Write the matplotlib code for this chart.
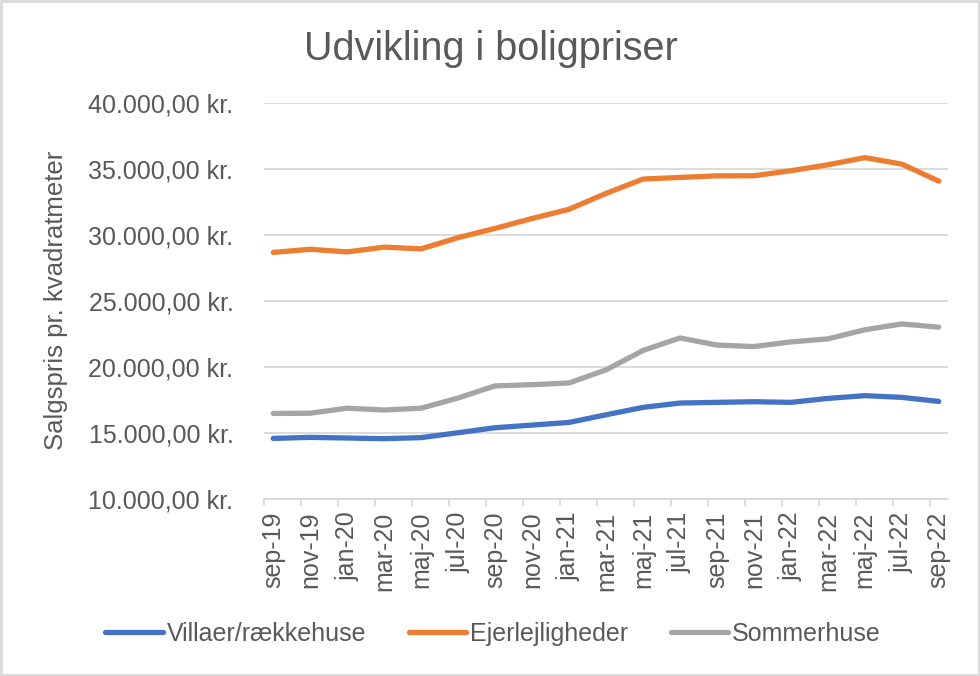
import matplotlib
matplotlib.use('Agg')
import matplotlib.pyplot as plt
from matplotlib.patches import Rectangle
from matplotlib.ticker import FuncFormatter, FixedLocator

plt.rcParams['font.family'] = ['Liberation Sans', 'DejaVu Sans']

# Data (kr. pr. m2), bimonthly
maaneder = ['sep-19', 'nov-19', 'jan-20', 'mar-20', 'maj-20', 'jul-20', 'sep-20',
            'nov-20', 'jan-21', 'mar-21', 'maj-21', 'jul-21', 'sep-21', 'nov-21',
            'jan-22', 'mar-22', 'maj-22', 'jul-22', 'sep-22']
villaer = [14590, 14670, 14620, 14570, 14650, 15020, 15400, 15600, 15800, 16380,
           16940, 17270, 17320, 17370, 17320, 17620, 17830, 17700, 17390]
ejerlejligheder = [28680, 28920, 28720, 29080, 28950, 29800, 30500, 31250, 31950,
                   33150, 34240, 34360, 34480, 34490, 34870, 35320, 35860, 35370, 34080]
sommerhuse = [16480, 16500, 16880, 16740, 16880, 17650, 18570, 18660, 18790, 19780,
              21250, 22200, 21660, 21550, 21900, 22130, 22820, 23260, 23020]

tekst = '#595959'
gitter = '#D9D9D9'

fig = plt.figure(figsize=(9.8, 6.76), dpi=100)
ax = fig.add_axes([264/980, 1-499/676, (948-264)/980, (499-103)/676])

x = list(range(len(maaneder)))
ax.plot(x, villaer, color='#4472C4', lw=3.8, solid_capstyle='round', label='Villaer/rækkehuse')
ax.plot(x, ejerlejligheder, color='#ED7D31', lw=3.8, solid_capstyle='round', label='Ejerlejligheder')
ax.plot(x, sommerhuse, color='#A5A5A5', lw=3.8, solid_capstyle='round', label='Sommerhuse')

ax.set_xlim(-0.25, len(maaneder) - 0.75)
ax.set_ylim(10000, 40000)
ax.set_yticks(range(10000, 40001, 5000))
ax.yaxis.set_major_formatter(FuncFormatter(
    lambda v, p: f"{v:,.2f}".replace(',', 'X').replace('.', ',').replace('X', '.') + ' kr.'))
ax.grid(axis='y', color=gitter, lw=1.3)
ax.set_axisbelow(True)

# ticks between categories, labels centered on points
ax.xaxis.set_major_locator(FixedLocator(x))
ax.set_xticklabels(maaneder, rotation=90)
ax.xaxis.set_minor_locator(FixedLocator([i - 0.25 for i in x]))
ax.tick_params(axis='x', which='major', length=0, pad=9, labelsize=18, labelcolor=tekst)
ax.tick_params(axis='x', which='minor', length=5, width=1.3, color=gitter)
ax.tick_params(axis='y', length=0, pad=22, labelsize=18, labelcolor=tekst)

for s in ['top', 'right', 'left']:
    ax.spines[s].set_visible(False)
ax.spines['bottom'].set_color(gitter)
ax.spines['bottom'].set_linewidth(1.3)

fig.text(0.501, 0.928, 'Udvikling i boligpriser', ha='center', va='center',
         fontsize=28.5, color=tekst)
fig.text(0.057, 0.555, 'Salgspris pr. kvadratmeter', rotation=90, ha='center',
         va='center', fontsize=18.5, color=tekst)

leg = fig.legend(loc='center', bbox_to_anchor=(0.503, 0.062), ncol=3, frameon=False,
                 fontsize=18, handlelength=2.3, handletextpad=0.15, columnspacing=1.7)
for t in leg.get_texts():
    t.set_color(tekst)

fig.patches.append(Rectangle((0.001, 0.001), 0.998, 0.998, transform=fig.transFigure,
                             fill=False, edgecolor=gitter, lw=2))

plt.savefig('out.png', dpi=100)
